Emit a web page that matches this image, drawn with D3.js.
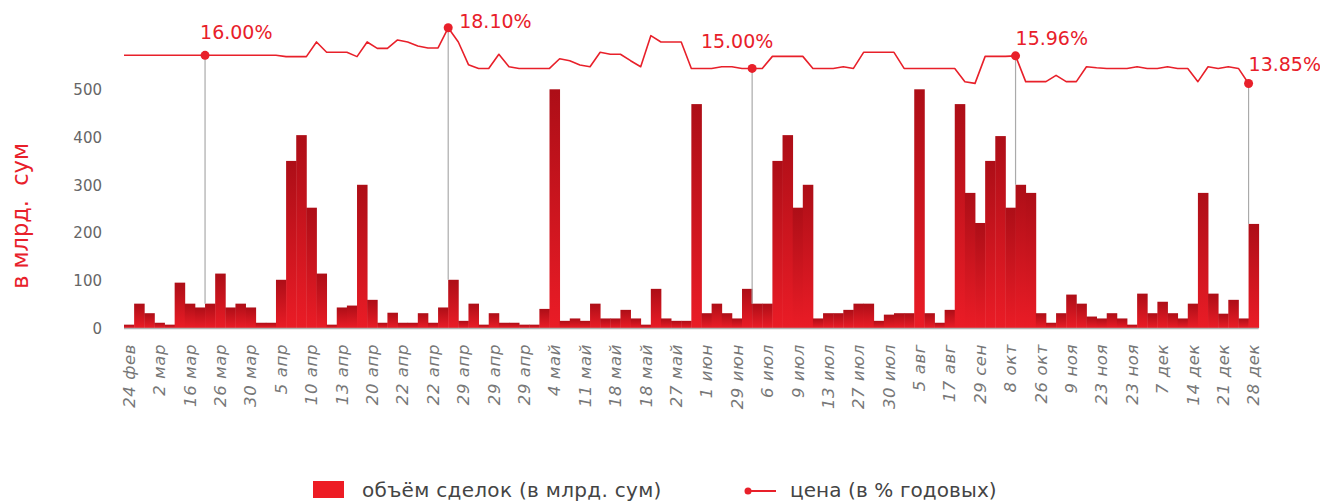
<!DOCTYPE html>
<html><head><meta charset="utf-8">
<script src="https://cdn.jsdelivr.net/npm/d3@7/dist/d3.min.js"></script>
<style>
html,body{margin:0;padding:0;background:#fff;}
svg{display:block;font-family:"DejaVu Sans",sans-serif;}
</style></head>
<body>
<svg id="chart" width="1320" height="502"></svg>
<script>
// ---- data ----
const volumes = [7,51,31,11,7,95,51,43,51,114,43,51,43,11,11,101,350,404,252,114,
7,43,47,300,59,11,32,11,11,31,11,43,101,15,51,7,31,11,11,7,
7,40,500,15,20,15,51,20,20,38,20,7,82,20,15,15,469,31,51,31,
20,82,51,51,350,404,252,300,20,31,31,38,51,51,15,28,31,31,500,31,
11,38,469,283,220,350,402,252,300,283,31,11,31,70,51,24,20,31,20,7,
72,31,55,31,20,51,283,72,30,59,20,218];
const prices = [16.00,16.00,16.00,16.00,16.00,16.00,16.00,16.00,16.00,16.00,16.00,16.00,16.00,16.00,16.00,16.00,
15.90,15.90,15.90,17.02,16.23,16.23,16.23,15.90,17.02,16.53,16.53,17.17,17.02,16.71,16.56,16.56,
18.10,17.02,15.29,15.00,15.00,16.08,15.13,15.00,15.00,15.00,15.00,15.74,15.59,15.26,15.13,16.23,
16.08,16.08,15.59,15.13,17.50,17.02,17.02,17.02,15.00,15.00,15.00,15.13,15.13,15.00,15.00,15.00,
15.92,15.92,15.92,15.92,15.00,15.00,15.00,15.13,15.00,16.23,16.23,16.23,16.23,15.00,15.00,15.00,
15.00,15.00,15.00,13.99,13.86,15.92,15.92,15.92,15.96,13.99,13.99,13.99,14.47,13.99,13.99,15.13,
15.05,15.00,15.00,15.00,15.13,15.00,15.00,15.13,15.00,15.00,13.99,15.13,15.00,15.13,15.00,13.85];
const tickLabels = ["24 фев","2 мар","16 мар","26 мар","30 мар","5 апр","10 апр","13 апр","20 апр","22 апр",
"22 апр","29 апр","29 апр","29 апр","4 май","11 май","18 май","18 май","27 май","1 июн",
"29 июн","6 июл","9 июл","13 июл","27 июл","30 июл","5 авг","17 авг","29 сен","8 окт",
"26 окт","9 ноя","23 ноя","23 ноя","7 дек","14 дек","21 дек","28 дек"];
const annotated = [8, 32, 62, 88, 111];
const yTicks = [0,100,200,300,400,500];
const yTitle = "в млрд.  сум";
const legendBar = "объём сделок (в млрд. сум)";
const legendLine = "цена (в % годовых)";

// ---- layout ----
const red = "#e8202a";
const svg = d3.select("#chart");
const idx = d3.range(volumes.length);
const x = d3.scaleBand().domain(idx).range([124, 1258.7]).padding(0);
const y = d3.scaleLinear().domain([0, 500]).range([328, 89.3]);
const yp = d3.scaleLinear().domain([13.85, 18.10]).range([83.5, 27.8]);

const defs = svg.append("defs");
const grad = defs.append("linearGradient").attr("id","barGrad")
  .attr("x1",0).attr("y1",0).attr("x2",0).attr("y2",1);
grad.append("stop").attr("offset","0%").attr("stop-color","#ad0e17");
grad.append("stop").attr("offset","100%").attr("stop-color","#ea1c26");

// bars
svg.append("g").selectAll("rect").data(idx).join("rect")
  .attr("x", i => x(i))
  .attr("width", x.bandwidth() + 0.4)
  .attr("y", i => y(volumes[i]))
  .attr("height", i => y(0) - y(volumes[i]))
  .attr("fill", "url(#barGrad)");

// baseline
svg.append("line").attr("x1",124).attr("x2",1258.7).attr("y1",y(0)+0.5).attr("y2",y(0)+0.5)
  .attr("stroke","#b0b0b0").attr("stroke-width",1.5);

// y axis
const yAxis = svg.append("g").attr("transform","translate(102,0)")
  .call(d3.axisLeft(y).tickValues(yTicks).tickSize(0).tickPadding(0));
yAxis.select(".domain").remove();
yAxis.selectAll("text").attr("font-family","'DejaVu Sans',sans-serif").attr("font-size",15)
  .attr("fill","#666").attr("dy","0.35em");

// y title
svg.append("text").attr("transform","translate(28,216) rotate(-90)")
  .attr("text-anchor","middle").attr("fill",red).attr("font-size",22.5)
  .style("white-space","pre").attr("xml:space","preserve").text(yTitle);

// x axis
const tickIdx = tickLabels.map((d,k) => k*3);
const xAxis = svg.append("g").attr("transform",`translate(0,${y(0)})`)
  .call(d3.axisBottom(x).tickValues(tickIdx).tickSize(0).tickFormat((d,k)=>tickLabels[k]));
xAxis.select(".domain").remove();
xAxis.selectAll("text")
  .attr("font-family","'DejaVu Sans',sans-serif").attr("font-size",16.5).attr("font-style","italic")
  .attr("letter-spacing",0.6)
  .attr("fill","#777").attr("text-anchor","end")
  .attr("transform","rotate(-90)").attr("x",-16).attr("y",0).attr("dy","0.35em");

// drop lines
svg.append("g").selectAll("line").data(annotated).join("line")
  .attr("x1", i => x(i)).attr("x2", i => x(i))
  .attr("y1", i => yp(prices[i])).attr("y2", i => y(volumes[i]))
  .attr("stroke","#aaa").attr("stroke-width",1.2);

// price line
const line = d3.line().x(i => x(i)).y(i => yp(prices[i]));
svg.append("path").datum(idx).attr("d", line)
  .attr("fill","none").attr("stroke",red).attr("stroke-width",1.6).attr("stroke-linejoin","round");

svg.append("g").selectAll("circle").data(annotated).join("circle")
  .attr("cx", i => x(i)).attr("cy", i => yp(prices[i])).attr("r",4.5).attr("fill",red);

const annOffset = {8:[-5,-16,"start"], 32:[11,0,"start"], 62:[-15,-20,"middle"], 88:[0,-11,"start"], 111:[0,-13,"start"]};
svg.append("g").selectAll("text").data(annotated).join("text")
  .attr("x", i => x(i) + annOffset[i][0])
  .attr("y", i => yp(prices[i]) + annOffset[i][1])
  .attr("text-anchor", i => annOffset[i][2])
  .attr("fill",red).attr("font-size",19)
  .text(i => prices[i].toFixed(2) + "%");

// legend
const lg = svg.append("g");
lg.append("rect").attr("x",313).attr("y",481).attr("width",31).attr("height",17).attr("fill","#ed1c24");
lg.append("text").attr("x",362).attr("y",497).attr("fill","#444").attr("font-size",20).attr("letter-spacing",0.3).text(legendBar);
lg.append("line").attr("x1",747).attr("x2",776).attr("y1",491).attr("y2",491).attr("stroke",red).attr("stroke-width",2);
lg.append("circle").attr("cx",748).attr("cy",491).attr("r",3.5).attr("fill",red);
lg.append("text").attr("x",790).attr("y",497).attr("fill","#444").attr("font-size",20).attr("letter-spacing",0.1).text(legendLine);
</script>
</body></html>
